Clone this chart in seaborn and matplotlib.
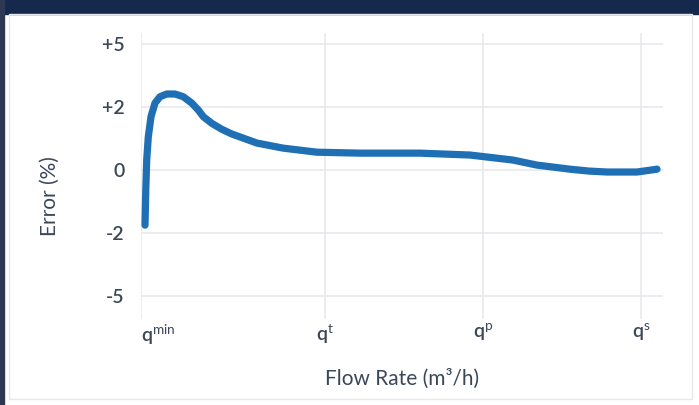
import numpy as np
import pandas as pd
import matplotlib
matplotlib.use("Agg")
import matplotlib.pyplot as plt
import seaborn as sns
from matplotlib.patches import Rectangle

# curve (flow in arbitrary units, error in %)
flow = [0.4, 0.48, 0.57, 0.73, 1.0, 1.4, 1.9, 2.57, 3.4, 4.23, 5.07, 5.73, 6.23, 7.07,
        8.07, 9.07, 11.6, 14.2, 17.6, 21.9, 27.9, 32.9, 37.2, 39.6, 42.9, 44.8,
        46.6, 49.6, 51.6]
error = [-1.75, -0.6, 0.32, 1.06, 1.70, 2.20, 2.50, 2.63, 2.63, 2.50, 2.20, 1.91, 1.70, 1.49,
         1.30, 1.15, 0.86, 0.70, 0.57, 0.54, 0.54, 0.48, 0.32, 0.16, 0.03, -0.03,
         -0.06, -0.06, 0.03]

x_ticks = [0, 18.4, 34.2, 50.0]
x_labels = [r"q$^{\mathrm{min}}$", r"q$^{\mathrm{t}}$", r"q$^{\mathrm{p}}$", r"q$^{\mathrm{s}}$"]
y_ticks = [-5, -2, 0, 2, 5]
y_labels = ["-5", "-2", "0", "+2", "+5"]

# the y axis spaces its labels evenly, so use a piecewise scale
val_anchor = [-8, -5, -2, 0, 2, 5, 8]
pos_anchor = [-3, -2, -1, 0, 1, 2, 3]

def fwd(v):
    return np.interp(v, val_anchor, pos_anchor)

def inv(p):
    return np.interp(p, pos_anchor, val_anchor)

sns.set_theme(style="white")
plt.rcParams["font.family"] = ["Lato", "DejaVu Sans"]
plt.rcParams["mathtext.fontset"] = "custom"
plt.rcParams["mathtext.rm"] = "Lato"
plt.rcParams["mathtext.bf"] = "Lato:bold"

text_col = "#3b4759"
line_col = "#1f6fb5"
grid_col = "#e8e9ec"

fig = plt.figure(figsize=(6.99, 4.05), dpi=100)
fig.patch.set_facecolor("white")

# top banner and frame
fig.patches.append(Rectangle((0, 1 - 14 / 405), 1, 14 / 405, transform=fig.transFigure,
                             color="#14294c", zorder=0))
fig.patches.append(Rectangle((0, 0), 4 / 699, 1, transform=fig.transFigure,
                             color="#2d3852", zorder=0))
fig.patches.append(Rectangle((9 / 699, 6 / 405), 683 / 699, 385 / 405, transform=fig.transFigure,
                             facecolor="none", edgecolor="#e6e8eb", linewidth=1, zorder=0))

ax = fig.add_axes([141 / 699, 1 - 319 / 405, 522 / 699, 286 / 405])
ax.set_yscale("function", functions=(fwd, inv))

df = pd.DataFrame({"flow": flow, "error": error})
sns.lineplot(data=df, x="flow", y="error", ax=ax, color=line_col, linewidth=5.2,
             solid_capstyle="round", solid_joinstyle="round", zorder=3)

ax.set_xlim(0, 52.2)
ax.set_ylim(-6.1, 5.54)
ax.set_xticks(x_ticks)
ax.set_xticklabels(x_labels)
ax.set_yticks(y_ticks)
ax.set_yticklabels(y_labels)
ax.grid(True, color=grid_col, linewidth=1.2)
for s in ax.spines.values():
    s.set_visible(False)
ax.tick_params(axis="both", length=0, labelsize=14, colors=text_col)
ax.tick_params(axis="y", pad=12)
ax.tick_params(axis="x", pad=2)
for lab in ax.get_xticklabels() + ax.get_yticklabels():
    lab.set_fontweight("semibold")
ax.get_xticklabels()[0].set_horizontalalignment("left")

ax.set_xlabel("Flow Rate (m³/h)", fontsize=15, color=text_col)
ax.set_ylabel("Error (%)", fontsize=15, color=text_col)
ax.xaxis.set_label_coords(0.5, -0.175)
ax.yaxis.set_label_coords(-0.155, 0.43)

fig.savefig("out.png", dpi=100)
